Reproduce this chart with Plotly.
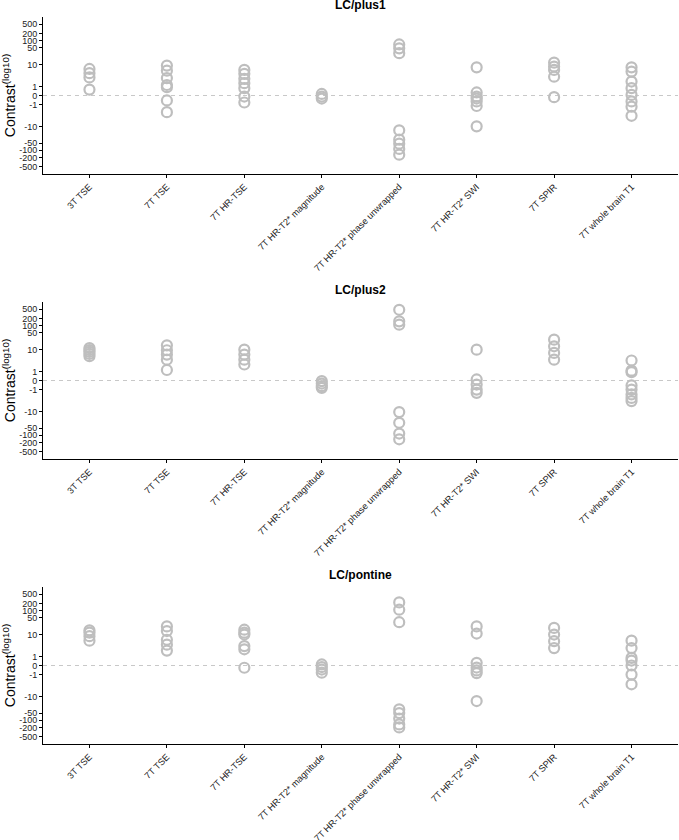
import numpy as np
import plotly.graph_objects as go

categories = ["3T TSE", "7T TSE", "7T HR-TSE", "7T HR-T2* magnitude",
              "7T HR-T2* phase unwrapped", "7T HR-T2* SWI", "7T SPIR",
              "7T whole brain T1"]
panel_titles = ["LC/plus1", "LC/plus2", "LC/pontine"]
tick_labels = [500, 200, 100, 50, 10, 1, 0, -1, -10, -50, -100, -200, -500]

# contrast values per category (same order as categories)
plus1_values = [
    [6.5, 4.3, 2.8, 0.6],
    [9.0, 5.5, 2.6, 1.2, 0.9, -0.5, -2.4],
    [5.9, 4.0, 2.4, 1.5, 0.77, -0.1, -0.73],
    [0.15, -0.1, -0.3],
    [70, 48, 30, -14.5, -36, -53, -88, -153],
    [7.6, 0.3, -0.1, -0.3, -0.6, -1.2, -9.9],
    [12, 8.2, 5.9, 3.0, -0.16],
    [7.6, 5.0, 1.8, 0.77, 0.06, -0.6, -1.3, -3.5],
]
plus2_values = [
    [11.5, 9.5, 8.0, 6.5, 5.2],
    [15, 9.3, 6.1, 3.7, 1.2],
    [9.9, 6.1, 3.7, 2.25],
    [-0.06, -0.3, -0.57, -0.77],
    [470, 153, 111, -10.6, -30, -85, -148],
    [9.9, 0.1, -0.4, -1.0, -1.5],
    [26, 13.7, 7.2, 3.7],
    [3.4, 1.1, 0.9, -0.5, -1.0, -1.8, -2.6, -3.6],
]
pontine_values = [
    [15, 12, 8.5, 5.5],
    [22, 14, 6.0, 3.7, 2.0],
    [16, 12, 10, 3.2, 2.3, -0.22],
    [0.1, -0.15, -0.4, -0.75],
    [224, 111, 33, -35, -50, -85, -150, -200],
    [22, 11, 0.26, -0.2, -0.5, -0.8, -15.6],
    [19, 10, 5.2, 2.6],
    [5.5, 2.6, 0.8, 0.5, 0.0, -1.0, -3.0],
]
panels = [plus1_values, plus2_values, pontine_values]

W, H = 679, 840
m_l, m_r, m_t, m_b = 43, 1, 17, 96
ph = H - m_t - m_b
panel_tops = [17, 302, 587]
panel_h = 157

def dom(top):
    y0 = 1 - (top + panel_h - m_t) / ph
    y1 = 1 - (top - m_t) / ph
    return [max(0, y0), min(1, y1)]

fig = go.Figure()
font_fam = "Liberation Sans, Arial, sans-serif"
yr = float(np.arcsinh(500) * 1.1)

for p, vals in enumerate(panels):
    sfx = "" if p == 0 else str(p + 1)
    for ci, cat in enumerate(categories):
        v = np.array(vals[ci], dtype=float)
        fig.add_trace(go.Scatter(
            x=[cat] * len(v), y=np.arcsinh(v), mode="markers",
            xaxis="x" + sfx, yaxis="y" + sfx, showlegend=False,
            marker=dict(symbol="circle-open", size=10, color="#BEBEBE",
                        line=dict(width=2.2, color="#BEBEBE")),
            hoverinfo="skip"))
    d = dom(panel_tops[p])
    fig.layout["xaxis" + sfx] = dict(
        domain=[0, 1], anchor="y" + sfx, type="category",
        categoryorder="array", categoryarray=categories,
        range=[-0.6, len(categories) - 0.4], automargin=False,
        showline=True, linecolor="black", linewidth=1,
        ticks="outside", ticklen=3, tickcolor="black", tickwidth=1,
        tickangle=-45, showgrid=False, zeroline=False,
        tickfont=dict(family=font_fam, size=9.2, color="#222222"))
    fig.layout["yaxis" + sfx] = dict(
        domain=d, anchor="x" + sfx, range=[-yr, yr], automargin=False,
        tickvals=list(np.arcsinh(tick_labels)),
        ticktext=[str(t) for t in tick_labels],
        showline=True, linecolor="black", linewidth=1,
        ticks="outside", ticklen=3, tickcolor="black", tickwidth=1,
        showgrid=False, zeroline=False,
        tickfont=dict(family=font_fam, size=9, color="#222222"),
        title=dict(text="Contrast<sup>(log10)</sup>", standoff=6,
                   font=dict(family=font_fam, size=14, color="black")))
    fig.add_shape(type="line", xref="x" + sfx + " domain", yref="y" + sfx,
                  x0=0, x1=1, y0=0, y1=0,
                  line=dict(color="#C8C8C8", width=1.2, dash="4px,4px"),
                  layer="below")
    fig.add_annotation(text="<b>" + panel_titles[p] + "</b>",
                       xref="x" + sfx + " domain", yref="y" + sfx + " domain",
                       x=0.5, y=1, yshift=3, yanchor="bottom", showarrow=False,
                       font=dict(family=font_fam, size=12, color="black"))

fig.update_layout(width=W, height=H, plot_bgcolor="white", paper_bgcolor="white",
                  margin=dict(l=m_l, r=m_r, t=m_t, b=m_b, pad=0))
fig.write_html("out.html",
               config={"displayModeBar": False, "staticPlot": True},
               post_script="document.body.style.margin='0';"
                           "document.body.style.overflow='hidden';")
